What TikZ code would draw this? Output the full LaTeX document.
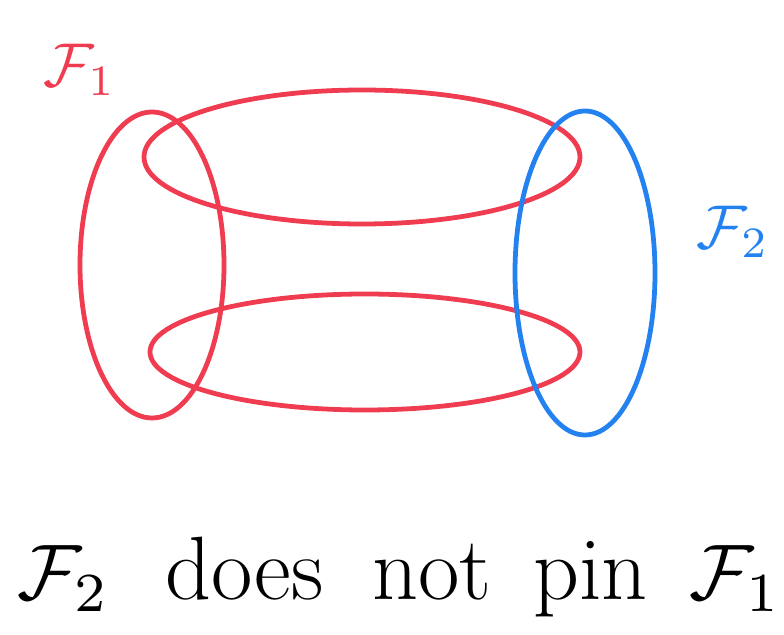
\documentclass[tikz,border=0pt]{standalone}
\usepackage{amsmath}
\usepackage{tikz}
\usetikzlibrary{positioning}
\definecolor{myred}{RGB}{240,60,80}
\definecolor{myblue}{RGB}{35,130,240}
\tikzset{
  redloop/.style={draw=myred, line width=3.4pt},
  blueloop/.style={draw=myblue, line width=3.4pt},
  famlabel/.style={inner sep=0pt, scale=4.4},
  capmath/.style={inner sep=0pt, anchor=base west, scale=5.6},
  caption/.style={inner sep=0pt, anchor=base west, font=\fontsize{64}{68}\selectfont}
}

\begin{document}
\begin{tikzpicture}[x=0.025cm, y=-0.025cm]
  \useasboundingbox (0,0) rectangle (784,635);

  % Families of sets
  \draw[redloop] (152,265) ellipse [x radius=72, y radius=153];
  \draw[redloop] (362,157) ellipse [x radius=218, y radius=67];
  \draw[redloop] (365,352) ellipse [x radius=215, y radius=58];
  \draw[blueloop] (585,273) ellipse [x radius=70, y radius=162];

  % Labels
  \node[famlabel, text=myred] (fone) at (80,70) {$\mathcal{F}_1$};
  \node[famlabel, text=myblue] (ftwo) at (733,232) {$\mathcal{F}_2$};

  % Caption
  \node[capmath] (wftwo) at (16,600) {$\mathcal{F}_2$};
  \node[caption] (wdoes) at (165,600) {does};
  \node[caption] (wnot) at (372,600) {not};
  \node[caption] (wpin) at (533,600) {pin};
  \node[capmath] (wfone) at (688,600) {$\mathcal{F}_1$};
\end{tikzpicture}
\end{document}
